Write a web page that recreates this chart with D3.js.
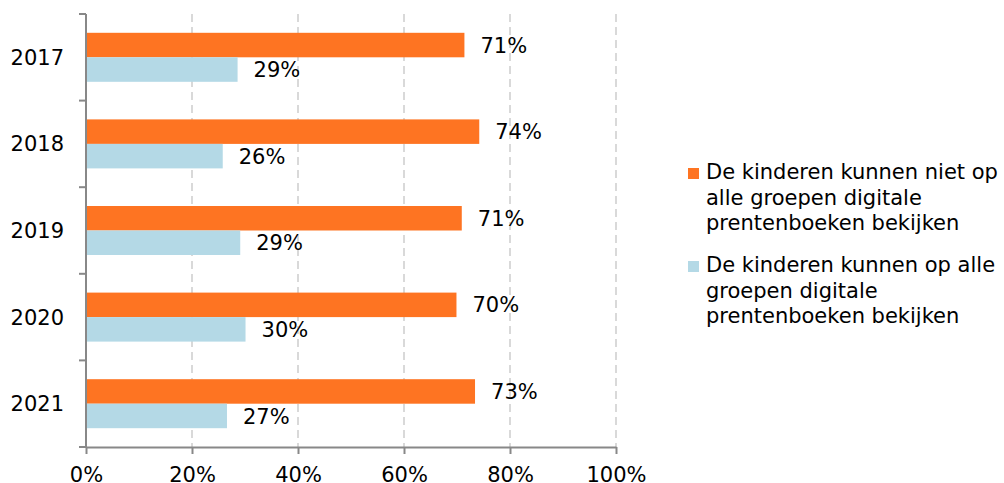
<!DOCTYPE html>
<html>
<head>
<meta charset="utf-8">
<script src="https://cdn.jsdelivr.net/npm/d3@7"></script>
<style>
  body { margin: 0; background: #fff; }
  text { font-family: Verdana, "DejaVu Sans", sans-serif; fill: #000; }
</style>
</head>
<body>
<div id="chart"></div>
<script>
const years = ['2017', '2018', '2019', '2020', '2021'];
const notAll = [71.4, 74.2, 70.9, 69.9, 73.4];
const allGroups = [28.6, 25.8, 29.1, 30.1, 26.6];
const xTicks = [0, 20, 40, 60, 80, 100];
const seriesNames = [
  ['De kinderen kunnen niet op', 'alle groepen digitale', 'prentenboeken bekijken'],
  ['De kinderen kunnen op alle', 'groepen digitale', 'prentenboeken bekijken'],
];
const colors = ['#fe7422', '#b4d9e6'];

const width = 1004;
const height = 483;
const plot = { left: 86, right: 616, top: 14, bottom: 447 };
const barH = 24.5;
const fontSize = '21px';

const svg = d3.select('#chart').append('svg')
  .attr('width', width)
  .attr('height', height);

const x = d3.scaleLinear().domain([0, 100]).range([plot.left, plot.right]);
const y = d3.scaleBand().domain(years).range([plot.top, plot.bottom]);

// dashed gridlines
svg.append('g')
  .selectAll('line')
  .data(xTicks.slice(1))
  .join('line')
  .attr('x1', d => x(d)).attr('x2', d => x(d))
  .attr('y1', plot.top).attr('y2', plot.bottom)
  .attr('stroke', '#d9d9d9')
  .attr('stroke-width', 2)
  .attr('stroke-dasharray', '8,5');

// bars + value labels
const series = [notAll, allGroups];
series.forEach((vals, i) => {
  svg.append('g')
    .selectAll('rect')
    .data(vals)
    .join('rect')
    .attr('x', x(0))
    .attr('y', (d, j) => y(years[j]) + y.bandwidth() / 2 - barH + i * barH)
    .attr('width', d => x(d) - x(0))
    .attr('height', barH)
    .attr('fill', colors[i]);

  svg.append('g')
    .selectAll('text')
    .data(vals)
    .join('text')
    .attr('x', d => x(d) + 16)
    .attr('y', (d, j) => y(years[j]) + y.bandwidth() / 2 - barH / 2 + i * barH)
    .attr('dy', '0.36em')
    .style('font-size', fontSize)
    .text(d => Math.round(d) + '%');
});

// x axis
const xAxis = svg.append('g')
  .attr('transform', `translate(0,${plot.bottom})`)
  .call(d3.axisBottom(x).tickValues(xTicks).tickFormat(d => d + '%').tickSize(7).tickSizeOuter(0).tickPadding(13));
xAxis.select('.domain').attr('stroke', '#888').attr('stroke-width', 2);
xAxis.selectAll('.tick line').attr('stroke', '#888').attr('stroke-width', 2);
xAxis.selectAll('.tick text').style('font-size', fontSize).attr('fill', '#000')
  .style('font-family', 'Verdana, "DejaVu Sans", sans-serif');

// y axis (ticks at category boundaries)
const yAxis = svg.append('g');
yAxis.append('line')
  .attr('x1', plot.left).attr('x2', plot.left)
  .attr('y1', plot.top).attr('y2', plot.bottom)
  .attr('stroke', '#888').attr('stroke-width', 2);
yAxis.selectAll('line.tk')
  .data(years.map(d => y(d)).concat([plot.bottom]))
  .join('line')
  .attr('class', 'tk')
  .attr('x1', plot.left - 7).attr('x2', plot.left)
  .attr('y1', d => d).attr('y2', d => d)
  .attr('stroke', '#888').attr('stroke-width', 2);
yAxis.selectAll('text')
  .data(years)
  .join('text')
  .attr('x', plot.left - 22)
  .attr('y', d => y(d) + y.bandwidth() / 2)
  .attr('dy', '0.36em')
  .attr('text-anchor', 'end')
  .style('font-size', fontSize)
  .text(d => d);

// legend
const legend = svg.append('g').attr('transform', 'translate(688,0)');
const legendTop = [168, 261];
seriesNames.forEach((lines, i) => {
  legend.append('rect')
    .attr('x', 0).attr('y', legendTop[i])
    .attr('width', 11).attr('height', 11)
    .attr('fill', colors[i]);
  legend.append('text')
    .attr('x', 18)
    .attr('y', legendTop[i] + 11)
    .style('font-size', fontSize)
    .selectAll('tspan')
    .data(lines)
    .join('tspan')
    .attr('x', 18)
    .attr('dy', (d, k) => k === 0 ? 0 : 25.5)
    .text(d => d);
});
</script>
</body>
</html>
